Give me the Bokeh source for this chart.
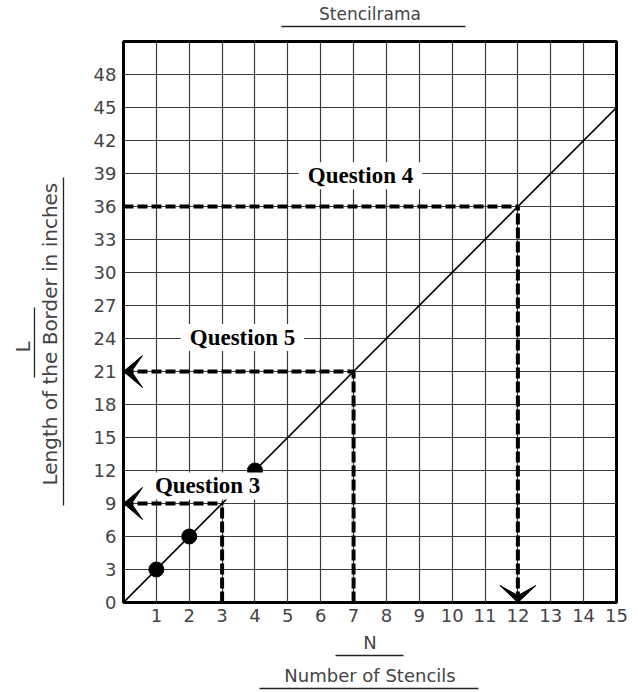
from bokeh.plotting import figure
from bokeh.models import Range1d, FixedTicker, Label, LinearAxis, Title
from bokeh.embed import file_html
from bokeh.resources import INLINE

# ---- data ----
n_ticks = list(range(1, 16))
l_ticks = list(range(0, 49, 3))
line_n = [0, 15]
line_l = [0, 45]
point_n = [1, 2, 4]
point_l = [3, 6, 12]
q_names = ["Question 3", "Question 4", "Question 5"]
q_n = [3, 12, 7]
q_l = [9, 36, 21]
q_dir = ["left", "down", "left"]

title_text = "Stencilrama"
x_symbol = "N"
x_title = "Number of Stencils"
y_symbol = "L"
y_title = "Length of the Border in inches"

HAND = "DejaVu Sans"
INK = "#444444"
W, H = 638, 692
ML, MR, MT, MB = 123, 22, 41, 90
XMAX, YMAX = 15, 51
px_x = (W - ML - MR) / XMAX
px_y = (H - MT - MB) / YMAX

p = figure(width=W, height=H, x_range=Range1d(0, XMAX), y_range=Range1d(0, YMAX),
           output_backend="svg", toolbar_location=None,
           min_border_left=ML, min_border_right=MR, min_border_top=MT, min_border_bottom=MB)
p.outline_line_color = "black"
p.outline_line_width = 3
p.background_fill_color = "white"
p.border_fill_color = "white"

for ax in (p.xaxis, p.yaxis):
    ax.axis_line_color = None
    ax.major_tick_line_color = None
    ax.minor_tick_line_color = None
    ax.major_tick_out = 0
    ax.minor_tick_out = 0
    ax.major_label_text_font = HAND
    ax.major_label_text_font_size = "18px"
    ax.major_label_text_color = INK
    ax.axis_label_text_font = HAND
    ax.axis_label_text_font_size = "18px"
    ax.axis_label_text_color = INK
    ax.axis_label_text_font_style = "normal"
p.xaxis.ticker = FixedTicker(ticks=n_ticks)
p.yaxis.ticker = FixedTicker(ticks=l_ticks)
p.xaxis.major_label_standoff = 6
p.yaxis.major_label_standoff = 7
p.xaxis.axis_label = x_symbol
p.xaxis.axis_label_standoff = 7
p.xgrid.ticker = FixedTicker(ticks=n_ticks)
p.ygrid.ticker = FixedTicker(ticks=l_ticks)
for g in (p.xgrid, p.ygrid):
    g.grid_line_color = "#3c3c3c"
    g.grid_line_width = 1.2


def rule_axis(side, bounds, label=None, standoff=0, size="18px"):
    """Extra axis whose line serves as an underline; may carry a title below/above it."""
    ax = LinearAxis(ticker=FixedTicker(ticks=[]), major_tick_out=0, minor_tick_out=0,
                    major_tick_line_color=None, minor_tick_line_color=None,
                    axis_line_color="#222222", axis_line_width=1.3, bounds=bounds)
    if label:
        ax.axis_label = label
        ax.axis_label_standoff = standoff
        ax.axis_label_text_font = HAND
        ax.axis_label_text_font_size = size
        ax.axis_label_text_color = INK
        ax.axis_label_text_font_style = "normal"
    p.add_layout(ax, side)


def spacer(side, gap):
    p.add_layout(Title(text=" ", text_font_size="1px", standoff=max(gap - 3, 0)), side)


def side_title(side, text, offset, standoff, size="20px"):
    p.add_layout(Title(text=text, align="left", offset=offset, standoff=standoff,
                       vertical_align="bottom", text_font=HAND, text_font_size=size,
                       text_font_style="normal", text_color=INK), side)

# top: spacer, underline + title
spacer("above", 15)
rule_axis("above", (4.8, 10.4), label=title_text, standoff=3, size="17px")
# bottom: underline of N + x title, underline of x title
rule_axis("below", (6.45, 8.52), label=x_title, standoff=9)
rule_axis("below", (4.14, 10.8))
# left: spacer, underline of y title, y title, underline of L, L
spacer("left", 27)
rule_axis("left", (8.82, 38.6))
side_title("left", y_title, offset=117, standoff=3)
rule_axis("left", (20.45, 26.8))
side_title("left", y_symbol, offset=250, standoff=0)

# main relation line and points
p.line(line_n, line_l, line_color="black", line_width=1.6)
p.scatter(point_n, point_l, size=15, color="black")

# dashed guide lines and arrowheads
for n, l, d in zip(q_n, q_l, q_dir):
    p.line([0, n], [l, l], line_color="black", line_width=4, line_dash="10 4")
    p.line([n, n], [0, l], line_color="black", line_width=4, line_dash="11 3")
    if d == "left":
        ln, hw, notch = 19 / px_x, 16 / px_y, 8 / px_x
        xs = [0, ln, notch, ln]
        ys = [l, l + hw, l, l - hw]
    else:
        ln, hw, notch = 17 / px_y, 18 / px_x, 7 / px_y
        xs = [n, n - hw, n, n + hw]
        ys = [0, ln, notch, ln]
    p.patch(xs, ys, color="black")

# question labels
q_pos = {"Question 3": (2.56, 10.6), "Question 4": (7.21, 38.8), "Question 5": (3.62, 24.1)}
for name in q_names:
    qx, qy = q_pos[name]
    p.add_layout(Label(x=qx, y=qy, text=name, text_font="Liberation Serif",
                       text_font_style="bold", text_font_size="23px", text_color="black",
                       text_align="center", text_baseline="middle",
                       background_fill_color="white",
                       padding=dict(left=9, right=9, top=1, bottom=1)))

open("out.html", "w").write(file_html(p, INLINE))
